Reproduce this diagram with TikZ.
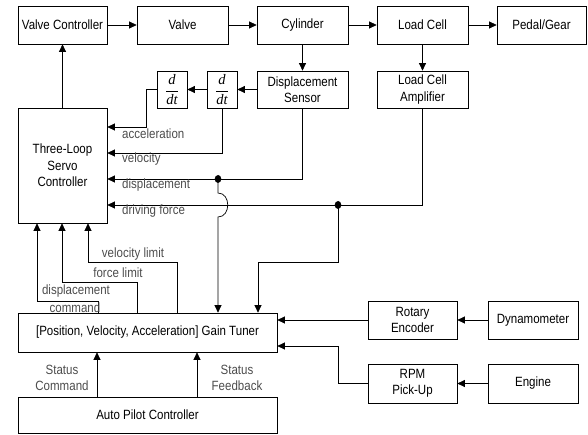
\documentclass[tikz,border=0pt]{standalone}
\usepackage{fontspec}
\setmainfont{Liberation Sans}[FakeStretch=0.86]
\newfontfamily\serifit{Liberation Serif}
\usetikzlibrary{arrows.meta,calc}
\newcommand{\ddtfrac}{$\displaystyle\frac{\hbox{\serifit\itshape d}}{\hbox{\serifit\itshape dt}}$}
\begin{document}
\begin{tikzpicture}[x=1pt,y=-1pt,
  box/.style={draw, line width=0.7pt, inner sep=0pt, align=center, font=\fontsize{13.4}{16.5}\selectfont},
  ddt/.style={draw, line width=0.7pt, inner sep=0pt, minimum width=30pt, minimum height=37pt, font=\fontsize{14.5}{16}\selectfont},
  arr/.style={-{Triangle[length=7.5pt,width=7pt]}, line width=0.7pt},
  lbl/.style={font=\fontsize{13.4}{16.5}\selectfont, text=black!70, inner sep=0pt, align=center},
  dotj/.style={fill=black}]
\useasboundingbox (0,0) rectangle (588,435);
% top row
\node[box, minimum width=89pt, minimum height=38pt] (vc) at (62.5,25) {Valve Controller};
\node[box, minimum width=91pt, minimum height=38pt] (valve) at (182.5,25) {Valve};
\node[box, minimum width=91pt, minimum height=38pt] (cyl) at (302.5,25) {Cylinder};
\node[box, minimum width=91pt, minimum height=38pt] (lc) at (422.5,25) {Load Cell};
\node[box, minimum width=89pt, minimum height=38pt] (pg) at (541.5,25) {Pedal/Gear};
% second row
\node[ddt] (d1) at (172,89.5) {\ddtfrac};
\node[ddt] (d2) at (222,89.5) {\ddtfrac};
\node[box, minimum width=91pt, minimum height=37pt] (ds) at (302.5,89.5) {Displacement\\Sensor};
\node[box, minimum width=91pt, minimum height=37pt] (lca) at (422.5,89.5) {Load Cell\\Amplifier};
% controller
\node[box, minimum width=89pt, minimum height=115pt] (tl) at (62.5,165.5) {Three-Loop\\Servo\\Controller};
\node[box, minimum width=259pt, minimum height=39pt] (gt) at (147.5,332.5) {[Position, Velocity, Acceleration] Gain Tuner};
\node[box, minimum width=259pt, minimum height=36pt] (ap) at (147.5,415) {Auto Pilot Controller};
\node[box, minimum width=89pt, minimum height=38pt] (re) at (412.5,320) {Rotary\\Encoder};
\node[box, minimum width=90pt, minimum height=38pt] (dyn) at (533,320) {Dynamometer};
\node[box, minimum width=89pt, minimum height=39pt] (rpm) at (412.5,383.5) {RPM\\Pick-Up};
\node[box, minimum width=90pt, minimum height=39pt] (eng) at (533,383.5) {Engine};
% top chain
\draw[arr] (vc) -- (valve);
\draw[arr] (valve) -- (cyl);
\draw[arr] (cyl) -- (lc);
\draw[arr] (lc) -- (pg);
\draw[arr] (cyl) -- (ds);
\draw[arr] (lc) -- (lca);
\draw[arr] (ds) -- (d2);
\draw[arr] (d2) -- (d1);
\draw[arr] (tl) -- (vc);
% feedback signals
\draw[arr] (d1.west) -- ++(-10,0) |- (tl.east |- 0,127);
\draw[arr] (d2.south) |- (tl.east |- 0,153);
\draw[arr] (ds.south) |- (tl.east |- 0,179);
\draw[arr] (lca.south) |- (tl.east |- 0,205);
\coordinate (j1) at (218,179);
\coordinate (j2) at (338,205);
\fill[dotj] (j1) ellipse[x radius=3.3pt, y radius=4pt];
\fill[dotj] (j2) ellipse[x radius=3.3pt, y radius=4pt];
\draw[arr] (j1) -- (218,193) .. controls (231,193) and (231,217) .. (218,217) -- (218,0 |- gt.north);
\draw[arr] (j2) |- (258,262) -- (258,0 |- gt.north);
% labels of feedback
\node[lbl, anchor=west] (lacc) at (122,134) {acceleration};
\node[lbl, anchor=west] (lvel) at (122,159) {velocity};
\node[lbl, anchor=west] (ldisp) at (122,185) {displacement};
\node[lbl, anchor=west] (ldf) at (122,211) {driving force};
% commands to controller
\draw[arr] (98,0 |- gt.north) |- (37,301) -- (37,0 |- tl.south);
\draw[arr] (137,0 |- gt.north) |- (62,282) -- (62,0 |- tl.south);
\draw[arr] (177,0 |- gt.north) |- (88,262) -- (88,0 |- tl.south);
\node[lbl] (lvl) at (133,254) {velocity limit};
\node[lbl] (lfl) at (118,273) {force limit};
\node[lbl] (ldc1) at (76,291) {displacement};
\node[lbl] (ldc2) at (75,308) {command};
% auto pilot
\draw[arr] (97,0 |- ap.north) -- (97,0 |- gt.south);
\draw[arr] (197,0 |- ap.north) -- (197,0 |- gt.south);
\node[lbl] (lsc) at (62,378) {Status\\Command};
\node[lbl] (lsf) at (237,378) {Status\\Feedback};
% encoders
\draw[arr] (dyn) -- (re);
\draw[arr] (eng) -- (rpm);
\draw[arr] (re.west) -- (gt.east |- re.west);
\draw[arr] (rpm.west) -- (338,0 |- rpm.west) |- (gt.east |- 0,346);
\end{tikzpicture}
\end{document}
